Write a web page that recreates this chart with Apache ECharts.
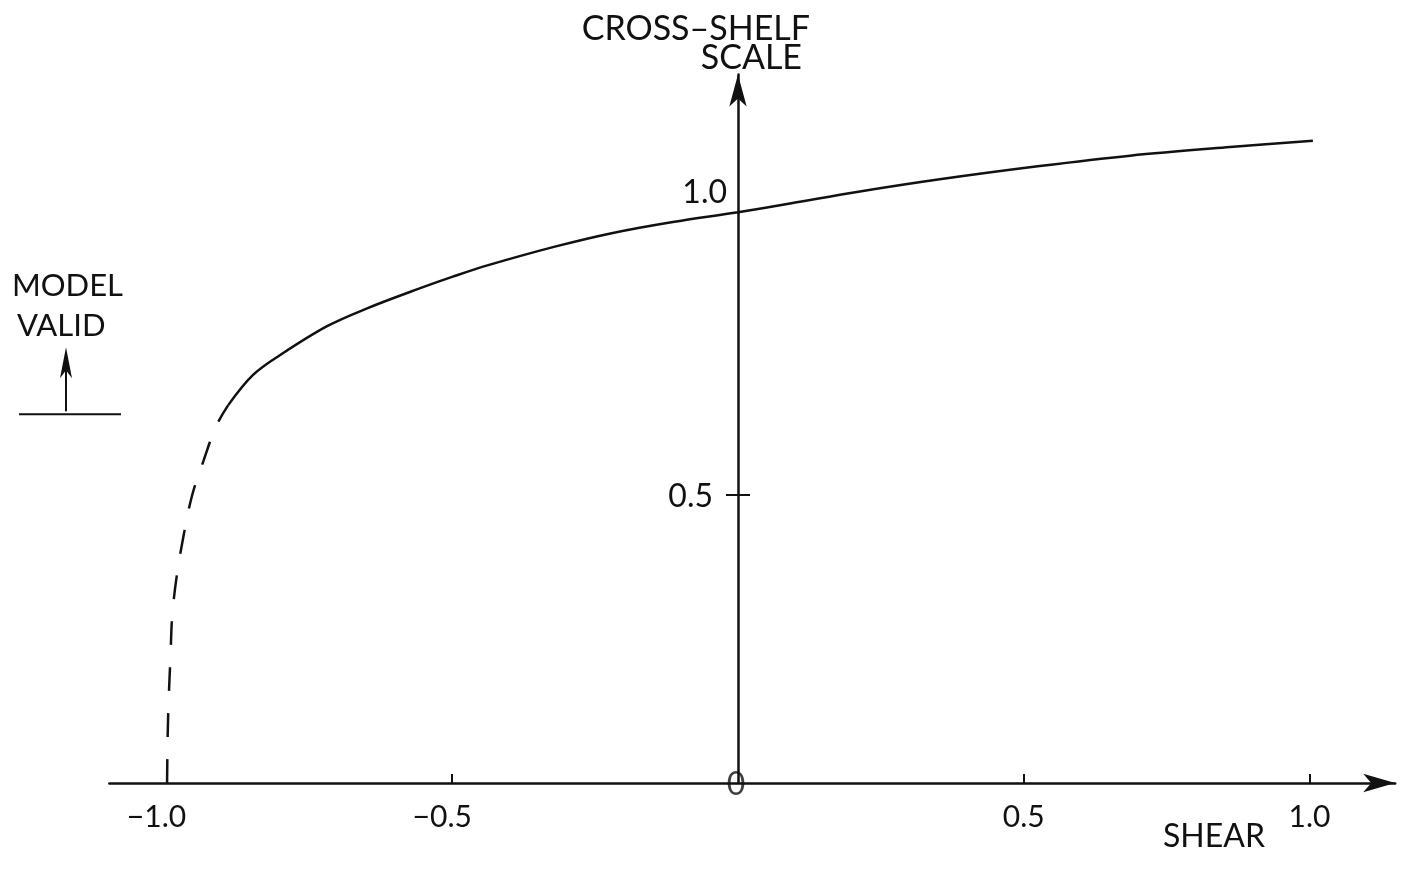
<!DOCTYPE html>
<html>
<head>
<meta charset="utf-8">
<script src="https://cdn.jsdelivr.net/npm/echarts@6/dist/echarts.min.js"></script>
<style>
html,body{margin:0;padding:0;background:#fff;}
#c{width:1407px;height:874px;}
</style>
</head>
<body>
<div id="c"></div>
<script>
// ---- data ----
const solidShear = [-0.892,-0.849,-0.801,-0.719,-0.649,-0.556,-0.499,-0.437,-0.317,-0.219,-0.114,0,0.091,0.208,0.353,0.528,0.686,0.861,1.006];
const solidScale = [0.656,0.708,0.743,0.793,0.824,0.859,0.879,0.899,0.932,0.955,0.974,0.991,1.006,1.026,1.048,1.071,1.089,1.104,1.115];
const dashShear = [-0.999,-0.998,-0.996,-0.993,-0.990,-0.982,-0.970,-0.955,-0.935,-0.913,-0.892];
const dashScale = [0,0.08,0.15,0.22,0.29,0.36,0.43,0.50,0.56,0.62,0.656];
const shearTicks = [-1.0,-0.5,0.5,1.0];
const shearTickLabels = ['−1.0','−0.5','0.5','1.0'];
const scaleTicks = [0.5];
const scaleLabelValues = [0.5,1.0];
const scaleTickLabels = ['0.5','1.0'];
const originLabel = '0';
const validThreshold = 0.64;

const FONT = 'Lato, "Open Sans", sans-serif';
const BLACK = '#111';
const solid = solidShear.map((s,i)=>[s,solidScale[i]]);
const dashed = dashShear.map((s,i)=>[s,dashScale[i]]);

const chart = echarts.init(document.getElementById('c'));
chart.setOption({
  animation:false,
  backgroundColor:'#fff',
  grid:{left:109.35,right:11.8,top:74.5,bottom:91,containLabel:false},
  xAxis:{
    type:'value', min:-1.1, max:1.15,
    splitLine:{show:false},
    axisLine:{show:true,onZero:true,lineStyle:{color:BLACK,width:2.5},symbol:['none','arrow'],symbolSize:[14,32]},
    axisTick:{show:true,inside:true,length:9,lineStyle:{color:BLACK,width:2},customValues:shearTicks},
    axisLabel:{
      show:true, margin:19, customValues:shearTicks,
      formatter:v=>{const i=shearTicks.indexOf(v); const t=shearTickLabels[i]; return v<0?'{n|'+t+'}':'{p|'+t+'}';},
      rich:{
        n:{fontFamily:FONT,fontSize:30,color:BLACK,padding:[0,20,0,0]},
        p:{fontFamily:FONT,fontSize:30,color:BLACK}
      }
    }
  },
  yAxis:{
    type:'value', min:0, max:1.23,
    splitLine:{show:false},
    axisLine:{show:true,onZero:true,lineStyle:{color:BLACK,width:2.5},symbol:['none','arrow'],symbolSize:[13,32]},
    axisTick:{show:false},
    axisLabel:{show:false}
  },
  series:[
    {type:'line',data:solid,showSymbol:false,smooth:0.35,lineStyle:{color:BLACK,width:2.5},silent:true},
    {type:'line',data:dashed,showSymbol:false,smooth:0.35,lineStyle:{color:BLACK,width:2.5,type:[24,22]},silent:true},
    {type:'scatter',data:[[0,0]],symbolSize:1,itemStyle:{color:'transparent'},silent:true,
     label:{show:true,position:'inside',formatter:originLabel,fontFamily:FONT,fontSize:32,color:BLACK,offset:[-2,2]}}
  ]
});

const yValid = chart.convertToPixel({gridIndex:0},[0,validThreshold])[1];
const gfx = [
  {type:'text',x:810,y:29,style:{text:'CROSS–SHELF',font:'34px '+FONT,fill:BLACK,textAlign:'right',textVerticalAlign:'middle'}},
  {type:'text',x:802,y:58,style:{text:'SCALE',font:'34px '+FONT,fill:BLACK,textAlign:'right',textVerticalAlign:'middle'}},
  {type:'text',x:12,y:286,style:{text:'MODEL',font:'31px '+FONT,fill:BLACK,textAlign:'left',textVerticalAlign:'middle'}},
  {type:'text',x:17,y:326,style:{text:'VALID',font:'31px '+FONT,fill:BLACK,textAlign:'left',textVerticalAlign:'middle'}},
  {type:'text',x:1214,y:837,style:{text:'SHEAR',font:'32px '+FONT,fill:BLACK,textAlign:'center',textVerticalAlign:'middle'}},
  {type:'line',shape:{x1:19,y1:yValid,x2:121,y2:yValid},style:{stroke:BLACK,lineWidth:2}},
  {type:'line',shape:{x1:66,y1:yValid-3,x2:66,y2:yValid-60},style:{stroke:BLACK,lineWidth:2}},
  {type:'polygon',shape:{points:[[66,yValid-67],[72,yValid-36],[66,yValid-44],[60,yValid-36]]},style:{fill:BLACK}}
];
scaleTicks.forEach(v=>{
  const p = chart.convertToPixel({gridIndex:0},[0,v]);
  gfx.push({type:'line',shape:{x1:p[0]-12,y1:p[1],x2:p[0]+12,y2:p[1]},style:{stroke:BLACK,lineWidth:2}});
});
scaleLabelValues.forEach((v,i)=>{
  const p = chart.convertToPixel({gridIndex:0},[0,v]);
  const isTop = v===1;
  gfx.push({type:'text',x:p[0]-(isTop?11:25),y:p[1]+(isTop?-14:2),
    style:{text:scaleTickLabels[i],font:'32px '+FONT,fill:BLACK,textAlign:'right',textVerticalAlign:'middle'}});
});
chart.setOption({graphic:gfx});
</script>
</body>
</html>
